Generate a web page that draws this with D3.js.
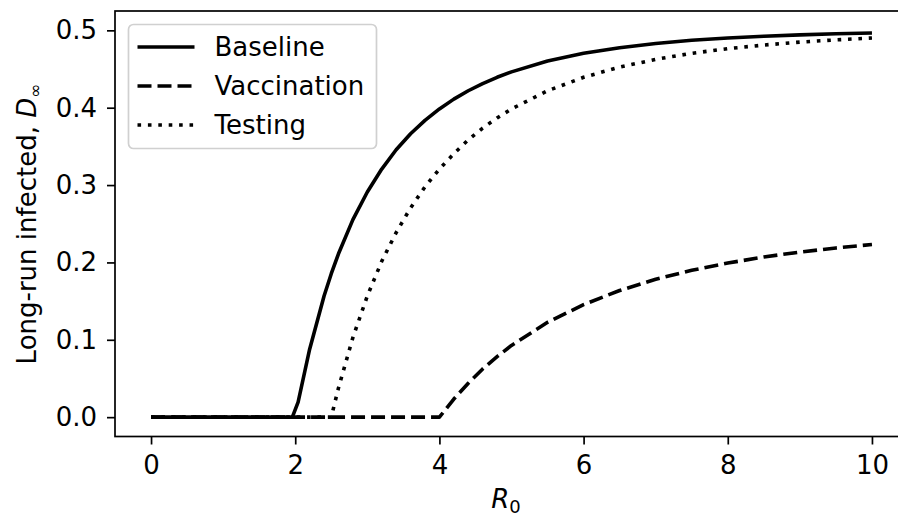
<!DOCTYPE html>
<html>
<head>
<meta charset="utf-8">
<script src="https://cdn.jsdelivr.net/npm/d3@7"></script>
<style>
  body { margin: 0; background: #fff; }
  text { font-family: "DejaVu Sans", sans-serif; fill: #000; }
</style>
</head>
<body>
<div id="chart"></div>
<script>
// basic reproduction number grid (x axis)
var r0 = [0, 1, 1.96, 2.04, 2.2, 2.4, 2.5, 2.6, 2.8, 3.0, 3.2, 3.4, 3.6, 3.8, 4.0,
          4.2, 4.4, 4.6, 4.8, 5.0, 5.5, 6.0, 6.5, 7.0, 7.5, 8.0, 8.5, 9.0, 9.5, 10];

// long-run infected share
var baseline = [0, 0, 0, 0.0195, 0.0878, 0.1566, 0.1854, 0.2112, 0.2553, 0.2910, 0.3207, 0.3456, 0.3663, 0.3837, 0.3984,
                0.4111, 0.4219, 0.4312, 0.4393, 0.4463, 0.4603, 0.4703, 0.4776, 0.4830, 0.4871, 0.4901, 0.4924, 0.4942, 0.4955, 0.4965];
var vaccination = [0, 0, 0, 0, 0, 0, 0, 0, 0, 0, 0, 0, 0, 0, 0,
                   0.0234, 0.0439, 0.0623, 0.0783, 0.0927, 0.1226, 0.1455, 0.1637, 0.1782, 0.1898, 0.1992, 0.2070, 0.2134, 0.2187, 0.2232];
var testing = [0, 0, 0, 0, 0, 0, 0, 0.0378, 0.1031, 0.1566, 0.2015, 0.2386, 0.2705, 0.2977, 0.3207,
               0.3405, 0.3584, 0.3736, 0.3868, 0.3984, 0.4219, 0.4393, 0.4525, 0.4625, 0.4703, 0.4763, 0.4810, 0.4848, 0.4877, 0.4901];

var seriesNames = ["Baseline", "Vaccination", "Testing"];
var xTicks = [0, 2, 4, 6, 8, 10];
var yTicks = [0, 0.1, 0.2, 0.3, 0.4, 0.5];

var width = 898, height = 521;
// axes box (right edge runs past the picture, like the original)
var axLeft = 115, axRight = 908, axTop = 11, axBottom = 436.5;

var svg = d3.select("#chart").append("svg")
    .attr("width", width)
    .attr("height", height);

var x = d3.scaleLinear().domain([-0.5, 10.5]).range([axLeft, axRight]);
var y = d3.scaleLinear().domain([-0.025, 0.525]).range([axBottom, axTop]);

// ticks
var xAxis = svg.append("g")
    .attr("transform", `translate(0, ${axBottom})`)
    .call(d3.axisBottom(x).tickValues(xTicks).tickSize(8).tickPadding(11).tickFormat(d3.format("d")));
var yAxis = svg.append("g")
    .attr("transform", `translate(${axLeft}, 0)`)
    .call(d3.axisLeft(y).tickValues(yTicks).tickSize(8).tickPadding(10).tickFormat(d3.format(".1f")));

[xAxis, yAxis].forEach(function(a) {
    a.select(".domain").remove();
    a.selectAll(".tick line").attr("stroke", "#000").attr("stroke-width", 1.7);
    a.selectAll(".tick text").attr("font-size", 26).attr("font-family", "DejaVu Sans, sans-serif");
});

// spines
svg.append("rect")
    .attr("x", axLeft).attr("y", axTop)
    .attr("width", axRight - axLeft).attr("height", axBottom - axTop)
    .attr("fill", "none").attr("stroke", "#000").attr("stroke-width", 1.7);

// lines
var styles = {
    "Baseline": null,
    "Vaccination": "14,6",
    "Testing": "3.6,6.8"
};
var data = [
    { name: "Baseline", values: baseline },
    { name: "Vaccination", values: vaccination },
    { name: "Testing", values: testing }
];

var line = d3.line()
    .x(function(d, i) { return x(r0[i]); })
    .y(function(d) { return y(d); });

svg.selectAll(".series")
    .data(data)
    .enter()
    .append("path")
    .attr("class", "series")
    .attr("d", d => line(d.values))
    .attr("fill", "none")
    .attr("stroke", "#000")
    .attr("stroke-width", 3.6)
    .attr("stroke-linejoin", "round")
    .attr("stroke-dasharray", d => styles[d.name]);

// legend
var legend = svg.append("g").attr("transform", "translate(128.5, 24.5)");
legend.append("rect")
    .attr("width", 248).attr("height", 124)
    .attr("rx", 5).attr("ry", 5)
    .attr("fill", "#fff").attr("fill-opacity", 0.8)
    .attr("stroke", "#d0d0d0").attr("stroke-width", 1.7);

var rows = legend.selectAll(".row")
    .data(seriesNames)
    .enter()
    .append("g")
    .attr("transform", (d, i) => `translate(0, ${22.5 + i * 39})`);

rows.append("line")
    .attr("x1", 9).attr("x2", 66)
    .attr("stroke", "#000")
    .attr("stroke-width", 3.6)
    .attr("stroke-dasharray", d => styles[d]);

rows.append("text")
    .attr("x", 86)
    .attr("dy", "0.36em")
    .attr("font-size", 26)
    .text(d => d);

// axis labels
var xl = svg.append("text")
    .attr("x", 506).attr("y", 508)
    .attr("text-anchor", "middle")
    .attr("font-size", 26);
xl.append("tspan").attr("font-style", "italic").text("R");
xl.append("tspan").attr("font-size", 18).attr("dy", 5).text("0");

var yl = svg.append("text")
    .attr("transform", "translate(36, 224) rotate(-90)")
    .attr("text-anchor", "middle")
    .attr("font-size", 26);
yl.append("tspan").text("Long-run infected, ");
yl.append("tspan").attr("font-style", "italic").text("D");
yl.append("tspan").attr("font-size", 17).attr("dy", 5).text("∞");
</script>
</body>
</html>
